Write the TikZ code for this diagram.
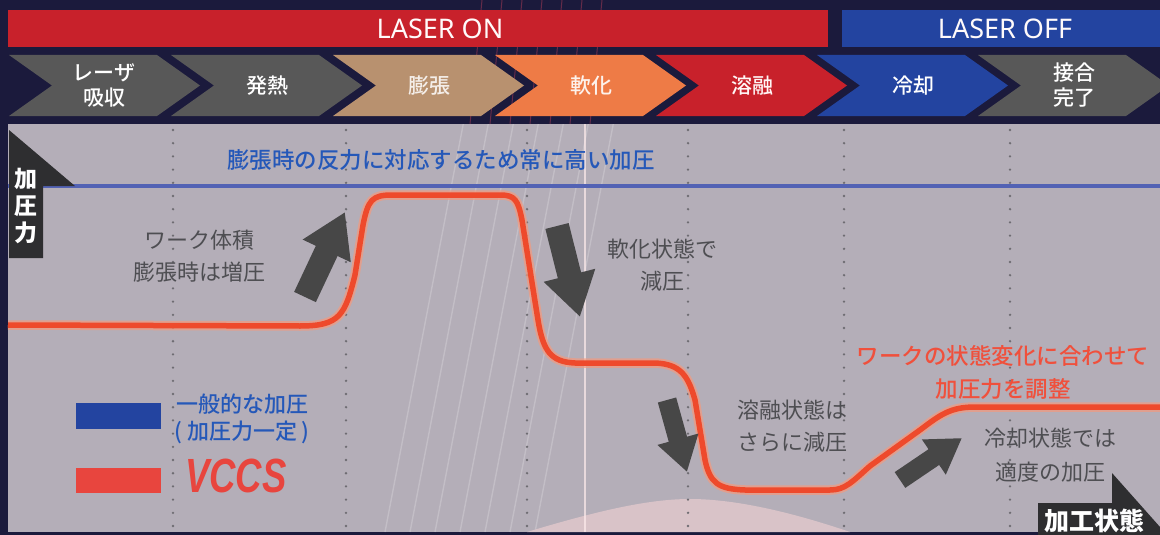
\documentclass[tikz,border=0pt]{standalone}
\usepackage{fontspec}
\setmainfont{Noto Sans CJK JP}
\newfontfamily\mediumfont{Noto Sans CJK JP Medium}
\newfontfamily\latinfont{Noto Sans}
\newfontfamily\vccsfont{Liberation Sans}
\usepackage{xcolor}
\usepackage{tikz}
\usetikzlibrary{arrows.meta}

\definecolor{navy}{HTML}{1B1A3C}
\definecolor{plotbg}{HTML}{B4AEB8}
\definecolor{onred}{HTML}{C8212B}
\definecolor{offblue}{HTML}{2344A0}
\definecolor{stepgray}{HTML}{585858}
\definecolor{steptan}{HTML}{B8916F}
\definecolor{steporange}{HTML}{EE7B46}
\definecolor{curvered}{HTML}{EE4A2C}
\definecolor{curveglow}{HTML}{F49A7E}
\definecolor{refblue}{HTML}{5262B4}
\definecolor{textgray}{HTML}{4E4E52}
\definecolor{notegray}{HTML}{474747}
\definecolor{noteblue}{HTML}{2558B8}
\definecolor{notered}{HTML}{F0503C}
\definecolor{tabdark}{HTML}{2E2E30}
\definecolor{legendred}{HTML}{E8453E}
\definecolor{dotgray}{HTML}{6E6C72}
\definecolor{mound}{HTML}{D9C3C8}
\definecolor{streak}{HTML}{C0405A}

\tikzset{
  steplabel/.style={inner sep=0pt, align=center, font={\mediumfont\fontsize{21}{25}\selectfont}},
  notetext/.style={inner sep=0pt, align=center, textgray, font={\fontsize{22}{32}\selectfont}},
  hintarrow/.style={notegray, line width=24pt, -{Triangle[length=43pt,width=50pt]}},
  smallhint/.style={notegray, line width=19pt, -{Triangle[length=34pt,width=40pt]}},
  guide/.style={dotgray, line width=2.6pt, line cap=round, dash pattern=on 0pt off 13.2pt},
}

\begin{document}
\begin{tikzpicture}[x=1pt, y=-1pt]
	\useasboundingbox (0,0) rectangle (1160,535);
	\fill[navy] (0,0) rectangle (1160,535);
	% laser glow behind the bars
	\foreach \x in {470,490,510,530,550,570,590}
		\draw[streak, opacity=0.45, line width=1pt] (\x,124) -- (\x+12,0);

	% laser state bars
	\fill[onred] (8,10) rectangle (828,47);
	\fill[offblue] (842,10) rectangle (1160,47);
	\node[inner sep=0pt, text=white!92!pink, font={\latinfont\fontsize{27}{27}\selectfont}] (laseron) at (440,29) {LASER ON};
	\node[inner sep=0pt, text=white!92!pink, font={\latinfont\fontsize{27}{27}\selectfont}] (laseroff) at (1005,29) {LASER OFF};

	% process steps
	\fill[stepgray] (9,55) -- (157,55) -- (200,85.5) -- (157,116) -- (9,116) -- (52,85.5) -- cycle;
	\fill[stepgray] (171,55) -- (319,55) -- (362,85.5) -- (319,116) -- (171,116) -- (214,85.5) -- cycle;
	\fill[steptan] (333,55) -- (481,55) -- (524,85.5) -- (481,116) -- (333,116) -- (376,85.5) -- cycle;
	\fill[steporange] (495,55) -- (643,55) -- (686,85.5) -- (643,116) -- (495,116) -- (538,85.5) -- cycle;
	\fill[onred] (656,55) -- (804,55) -- (847,85.5) -- (804,116) -- (656,116) -- (699,85.5) -- cycle;
	\fill[offblue] (817,55) -- (965,55) -- (1008,85.5) -- (965,116) -- (817,116) -- (860,85.5) -- cycle;
	\fill[stepgray] (978,55) -- (1126,55) -- (1169,85.5) -- (1126,116) -- (978,116) -- (1021,85.5) -- cycle;
	\node[steplabel, white] (absorb) at (104,85.5) {レーザ\\吸収};
	\node[steplabel, white] (heat) at (267,85.5) {発熱};
	\node[steplabel, white!85!steptan] (expand) at (429,85.5) {膨張};
	\node[steplabel, white!90!steporange] (soften) at (591,85.5) {軟化};
	\node[steplabel, white!85!pink] (melt) at (752,85.5) {溶融};
	\node[steplabel, white] (cool) at (913,85.5) {冷却};
	\node[steplabel, white] (bond) at (1074,85.5) {接合\\完了};

	% chart area
	\fill[plotbg] (8,124) rectangle (1160,532);
	\begin{scope}
		\clip (8,124) rectangle (1160,532);
		\foreach \x in {385,410,435,460,485,510,535}
			\draw[white, opacity=0.2, line width=1.4pt] (\x,532) -- (\x+150,-250);
		\fill[mound] (527,532) .. controls (600,510) and (650,499) .. (690,499) .. controls (740,499) and (800,515) .. (850,532) -- cycle;
		\draw[white!70!pink, opacity=0.7, line width=2pt] (585,124) -- (585,532);
	\end{scope}
	\draw[guide] (173,130) -- (173,530);
	\draw[guide] (346,130) -- (346,530);
	\draw[guide] (527,130) -- (527,530);
	\draw[guide] (688,130) -- (688,530);
	\draw[guide] (844,130) -- (844,530);
	\draw[guide] (1010,130) -- (1010,530);

	% constant pressure line
	\draw[refblue, line width=4pt] (8,186) -- (1160,186);
	\node[inner sep=0pt, noteblue, font={\mediumfont\fontsize{22.5}{26}\selectfont}] (constnote) at (441,160) {膨張時の反力に対応するため常に高い加圧};

	% axis tabs
	\fill[tabdark] (9,130) -- (75,186) -- (43,186) -- (43,258) -- (9,258) -- cycle;
	\node[inner sep=0pt, align=center, white, font={\bfseries\fontsize{23}{27}\selectfont}] (yaxis) at (26,206) {加\\圧\\力};
	\fill[tabdark] (1038,503) -- (1112,503) -- (1112,473) -- (1160,527) -- (1160,535) -- (1038,535) -- cycle;
	\node[inner sep=0pt, white, font={\bfseries\fontsize{25}{27}\selectfont}] (xaxis) at (1094,521) {加工状態};

	% VCCS pressure curve
	\draw[curveglow, opacity=0.7, line width=9.5pt, line join=round]
		(8,325) -- (300,326) .. controls (340,326) and (345,315) .. (355,275) -- (363,225)
		.. controls (368,200) and (372,195) .. (392,195) -- (500,195)
		.. controls (515,195) and (518,200) .. (522,220) -- (538,320)
		.. controls (543,350) and (550,362) .. (575,363) -- (655,363)
		.. controls (680,364) and (688,375) .. (695,400) -- (705,460)
		.. controls (710,483) and (718,489) .. (745,490) -- (830,490)
		.. controls (845,490) and (852,482) .. (870,466) -- (920,430)
		.. controls (940,415) and (950,407) .. (975,407) -- (1160,407);
	\draw[curvered, line width=5.5pt, line join=round]
		(8,325) -- (300,326) .. controls (340,326) and (345,315) .. (355,275) -- (363,225)
		.. controls (368,200) and (372,195) .. (392,195) -- (500,195)
		.. controls (515,195) and (518,200) .. (522,220) -- (538,320)
		.. controls (543,350) and (550,362) .. (575,363) -- (655,363)
		.. controls (680,364) and (688,375) .. (695,400) -- (705,460)
		.. controls (710,483) and (718,489) .. (745,490) -- (830,490)
		.. controls (845,490) and (852,482) .. (870,466) -- (920,430)
		.. controls (940,415) and (950,407) .. (975,407) -- (1160,407);

	% trend arrows
	\coordinate (rise1 tail) at (305,297);
	\coordinate (rise1 tip) at (345,212);
	\coordinate (drop1 tail) at (557,226);
	\coordinate (drop1 tip) at (580,317);
	\coordinate (drop2 tail) at (667,400);
	\coordinate (drop2 tip) at (687,472);
	\coordinate (rise2 tail) at (900,480);
	\coordinate (rise2 tip) at (962,438);
	\draw[hintarrow] (rise1 tail) -- (rise1 tip);
	\draw[hintarrow] (drop1 tail) -- (drop1 tip);
	\draw[smallhint] (drop2 tail) -- (drop2 tip);
	\draw[smallhint] (rise2 tail) -- (rise2 tip);

	% notes
	\node[notetext] (expandnote) at (199,256) {ワーク体積\\膨張時は増圧};
	\node[notetext] (softnote) at (662,265) {軟化状態で\\減圧};
	\node[notetext] (meltnote) at (792,426) {溶融状態は\\さらに減圧};
	\node[notetext, font={\fontsize{22}{34}\selectfont}] (coolnote) at (1050,455) {冷却状態では\\適度の加圧};
	\node[notetext, notered, font={\mediumfont\fontsize{22.5}{33}\selectfont}] (adjustnote) at (1003,372) {ワークの状態変化に合わせて\\加圧力を調整};

	% legend
	\fill[offblue] (76,403) rectangle (161,429);
	\fill[legendred] (76,468) rectangle (161,493);
	\node[inner sep=0pt, align=center, noteblue, font={\mediumfont\fontsize{22}{27}\selectfont}] (commonkey) at (242,419) {一般的な加圧\\( 加圧力一定 )};
	\node[inner sep=0pt, legendred, font={\vccsfont\bfseries\itshape\fontsize{48}{48}\selectfont}] (vccskey) at (236,476) {\scalebox{0.76}[1]{VCCS}};
\end{tikzpicture}
\end{document}
